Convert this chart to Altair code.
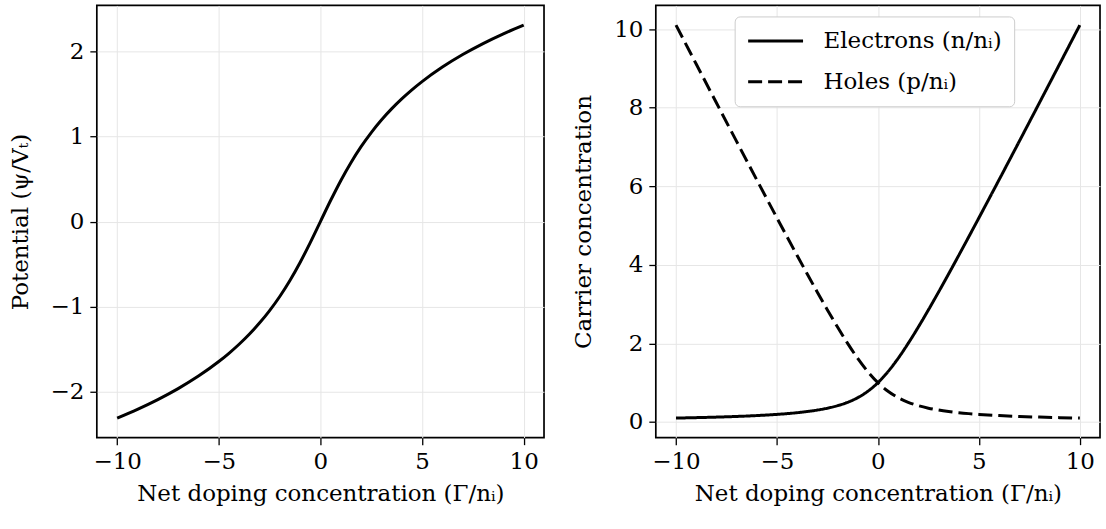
import altair as alt
import pandas as pd

gamma = [-10, -9, -8, -7, -6, -5, -4.5, -4, -3.5, -3, -2.5, -2, -1.5, -1, -0.5,
         0, 0.5, 1, 1.5, 2, 2.5, 3, 3.5, 4, 4.5, 5, 6, 7, 8, 9, 10]

potential = [-2.3124, -2.2093, -2.0947, -1.9657, -1.8184, -1.6472, -1.5502, -1.4436,
             -1.3259, -1.1948, -1.0476, -0.8814, -0.6931, -0.4812, -0.2475,
             0.0, 0.2475, 0.4812, 0.6931, 0.8814, 1.0476, 1.1948, 1.3259, 1.4436,
             1.5502, 1.6472, 1.8184, 1.9657, 2.0947, 2.2093, 2.3124]

electrons = [0.0990, 0.1098, 0.1231, 0.1401, 0.1623, 0.1926, 0.2122, 0.2361,
             0.2656, 0.3028, 0.3508, 0.4142, 0.5000, 0.6180, 0.7808,
             1.0, 1.2808, 1.6180, 2.0, 2.4142, 2.8508, 3.3028, 3.7656, 4.2361,
             4.7122, 5.1926, 6.1623, 7.1401, 8.1231, 9.1098, 10.0990]

holes = [10.0990, 9.1098, 8.1231, 7.1401, 6.1623, 5.1926, 4.7122, 4.2361,
         3.7656, 3.3028, 2.8508, 2.4142, 2.0, 1.6180, 1.2808,
         1.0, 0.7808, 0.6180, 0.5000, 0.4142, 0.3508, 0.3028, 0.2656, 0.2361,
         0.2122, 0.1926, 0.1623, 0.1401, 0.1231, 0.1098, 0.0990]

series = ["Electrons (n/nᵢ)", "Holes (p/nᵢ)"]
x_ticks = [-10, -5, 0, 5, 10]
left_ticks = [-2, -1, 0, 1, 2]
right_ticks = [0, 2, 4, 6, 8, 10]

FONT = "DejaVu Serif"
FS = 23
LW = 3

left_df = pd.DataFrame({"gamma": gamma, "psi": potential})
right_df = pd.DataFrame({
    "gamma": gamma + gamma,
    "value": electrons + holes,
    "carrier": [series[0]] * len(gamma) + [series[1]] * len(gamma),
})

x_scale = alt.Scale(domain=[-11, 11], nice=False, zero=False)
x_axis = alt.Axis(values=x_ticks, title="Net doping concentration (Γ/nᵢ)")

left = alt.Chart(left_df).mark_line(
    color="black", strokeWidth=LW, interpolate="monotone"
).encode(
    x=alt.X("gamma:Q", scale=x_scale, axis=x_axis),
    y=alt.Y("psi:Q", scale=alt.Scale(domain=[-2.543, 2.543], nice=False, zero=False),
            axis=alt.Axis(values=left_ticks, title="Potential (ψ/Vₜ)")),
).properties(width=448, height=433)

right = alt.Chart(right_df).mark_line(
    color="black", strokeWidth=LW, interpolate="monotone"
).encode(
    x=alt.X("gamma:Q", scale=x_scale, axis=x_axis),
    y=alt.Y("value:Q", scale=alt.Scale(domain=[-0.4, 10.6], nice=False, zero=False),
            axis=alt.Axis(values=right_ticks, title="Carrier concentration")),
    strokeDash=alt.StrokeDash(
        "carrier:N",
        scale=alt.Scale(domain=series, range=[[1, 0], [14, 6]]),
        legend=alt.Legend(
            title=None, orient="none", legendX=639, legendY=11,
            fillColor="white", strokeColor="#cccccc", cornerRadius=5,
            padding=12, labelFont=FONT, labelFontSize=FS, labelColor="black",
            labelLimit=400,
            symbolType="M-1,0H4", symbolSize=484, symbolStrokeWidth=LW,
            symbolStrokeColor="black", rowPadding=16, labelOffset=52,
        ),
    ),
).properties(width=445, height=433)

chart = alt.hconcat(left, right, spacing=26).properties(
    padding={"left": 8, "top": 4, "right": 5, "bottom": 5},
    background="white",
).configure_axis(
    labelFont=FONT, titleFont=FONT, labelFontSize=FS, titleFontSize=FS,
    labelColor="black", titleColor="black", titleFontWeight="normal",
    tickColor="black", tickSize=7, tickWidth=1.3, domain=False,
    gridColor="#e6e6e6", gridWidth=1, labelPadding=6,
).configure_axisX(
    titlePadding=9,
).configure_axisY(
    titlePadding=18,
).configure_view(
    stroke="black", strokeWidth=1.7
)

chart.save("out.html", embed_options={"renderer": "svg", "actions": False})
